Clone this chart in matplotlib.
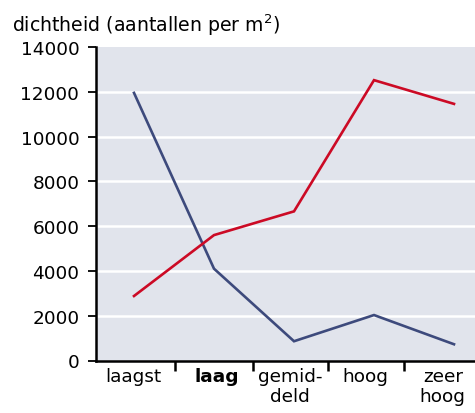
import matplotlib
matplotlib.use("Agg")
import matplotlib.pyplot as plt

categories = ["laagst", "laag", "gemid-\ndeld", "hoog", "zeer\nhoog"]
blue_values = [11950, 4100, 860, 2030, 725]
red_values = [2880, 5600, 6660, 12520, 11460]
yticks = [0, 2000, 4000, 6000, 8000, 10000, 12000, 14000]
ylabel = "dichtheid (aantallen per m$^2$)"

W, H = 475, 414
fig = plt.figure(figsize=(W / 100, H / 100), dpi=100)
left, right, top, bottom = 96, 475, 48, 361.5
ax = fig.add_axes([left / W, 1 - bottom / H, (right - left) / W, (bottom - top) / H])
ax.set_facecolor("#e1e4ec")

x = list(range(len(categories)))
ax.plot(x, blue_values, color="#3d4a7c", lw=1.9, solid_joinstyle="miter", zorder=3)
ax.plot(x, red_values, color="#cc0a25", lw=1.9, solid_joinstyle="miter", zorder=3)

ax.set_xlim(-0.475, 4.2625)
ax.set_ylim(0, 14000)
ax.set_yticks(yticks)
ax.set_yticklabels([str(v) for v in yticks], fontsize=13.3)
for v in yticks[1:-1]:
    ax.axhline(v, color="white", lw=1.8, zorder=1)

# category separators as major ticks, labels as minor ticks
ax.set_xticks([0.5125, 1.4875, 2.425, 3.375])
ax.set_xticklabels([])
ax.set_xticks([-0.01, 1.04, 1.95, 2.89, 3.86], minor=True)
ax.set_xticklabels(categories, minor=True, fontsize=13.3, linespacing=1.1)
ax.tick_params(axis="x", which="minor", length=0, pad=5)
ax.tick_params(axis="x", which="major", length=7, width=1.8, direction="out")
ax.tick_params(axis="y", length=6, width=1.3, direction="out", pad=6)
for lbl in ax.get_xticklabels(minor=True):
    if lbl.get_text() == "laag":
        lbl.set_fontweight("bold")

for s in ["top", "right"]:
    ax.spines[s].set_visible(False)
ax.spines["left"].set_linewidth(1.8)
ax.spines["bottom"].set_linewidth(1.8)

fig.text(12 / W, 1 - 13 / H, ylabel, fontsize=13.6, va="top", ha="left")

fig.savefig("out.png", dpi=100)
